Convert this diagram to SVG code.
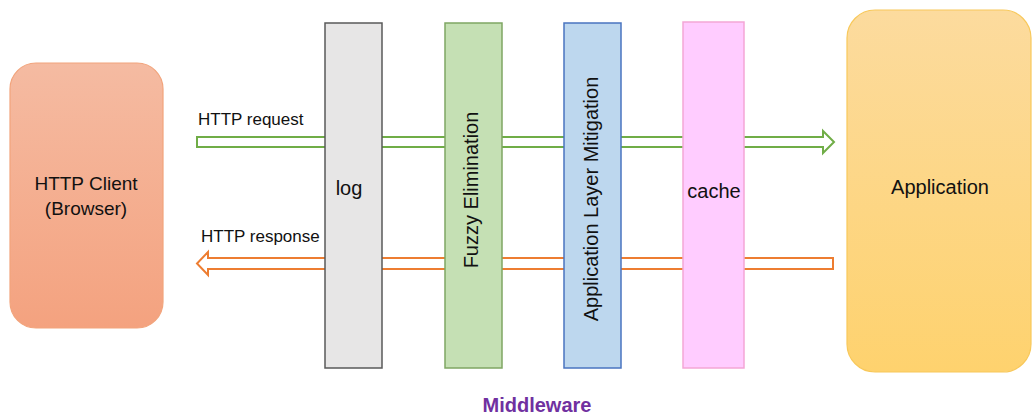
<svg xmlns="http://www.w3.org/2000/svg" width="1033" height="416" viewBox="0 0 1033 416">
  <defs>
    <linearGradient id="gClient" x1="0" y1="0" x2="0" y2="1">
      <stop offset="0" stop-color="#F5BBA2"/>
      <stop offset="1" stop-color="#F4A27F"/>
    </linearGradient>
    <linearGradient id="gApp" x1="0" y1="0" x2="0" y2="1">
      <stop offset="0" stop-color="#FCDB9E"/>
      <stop offset="1" stop-color="#FED26E"/>
    </linearGradient>
  </defs>
  <style>
    text { font-family: "Liberation Sans", Arial, sans-serif; font-size: 17px; fill: #111; }
    .mid { text-anchor: middle; }
    .node { font-size: 20px; }
    .arrow { fill: #fff; stroke-width: 2; stroke-linejoin: miter; }
    .req { stroke: #70AD47; }
    .resp { stroke: #ED7D31; }
    .bar { stroke-width: 1.5; }
    .title { font-weight: bold; font-size: 20px; fill: #7030A0; }
  </style>

  <rect width="1033" height="416" fill="#fff"/>

  <!-- request / response flows, drawn under the middleware bars -->
  <g id="connectors">
    <path class="arrow req" d="M197,137 H823 V131 L834,142 L823,153 V147 H197 Z"/>
    <path class="arrow resp" d="M833,258 H208 V252 L197,263.5 L208,275 V269 H833 Z"/>
    <text x="198" y="125">HTTP request</text>
    <text x="201" y="242">HTTP response</text>
  </g>

  <g id="client">
    <rect x="10" y="63" width="153" height="265" rx="26" fill="url(#gClient)" stroke="#F2A47C" stroke-width="1.2"/>
    <text class="mid" x="86" y="190" style="font-size:19px">HTTP Client</text>
    <text class="mid" x="86" y="215" style="font-size:19px">(Browser)</text>
  </g>

  <g id="log">
    <rect class="bar" x="325" y="23" width="57" height="345" fill="#E7E6E6" stroke="#595959"/>
    <text class="mid node" x="349" y="195">log</text>
  </g>

  <g id="fuzzy">
    <rect class="bar" x="445" y="23" width="57" height="345" fill="#C5E0B4" stroke="#7FA663"/>
    <text class="mid node" transform="translate(478,190) rotate(-90)">Fuzzy Elimination</text>
  </g>

  <g id="mitigation">
    <rect class="bar" x="564" y="23" width="57" height="345" fill="#BDD7EE" stroke="#4A74C0"/>
    <text class="mid node" transform="translate(598,199) rotate(-90)">Application Layer Mitigation</text>
  </g>

  <g id="cache">
    <rect class="bar" x="683" y="22" width="61" height="346" fill="#FFCCFF" stroke="#F4A6D6"/>
    <text class="mid node" x="714" y="198">cache</text>
  </g>

  <g id="application">
    <rect x="847" y="10" width="184" height="362" rx="28" fill="url(#gApp)" stroke="#F8C85A" stroke-width="1.2"/>
    <text class="mid node" x="940" y="194">Application</text>
  </g>

  <text class="title mid" x="537" y="412">Middleware</text>
</svg>
